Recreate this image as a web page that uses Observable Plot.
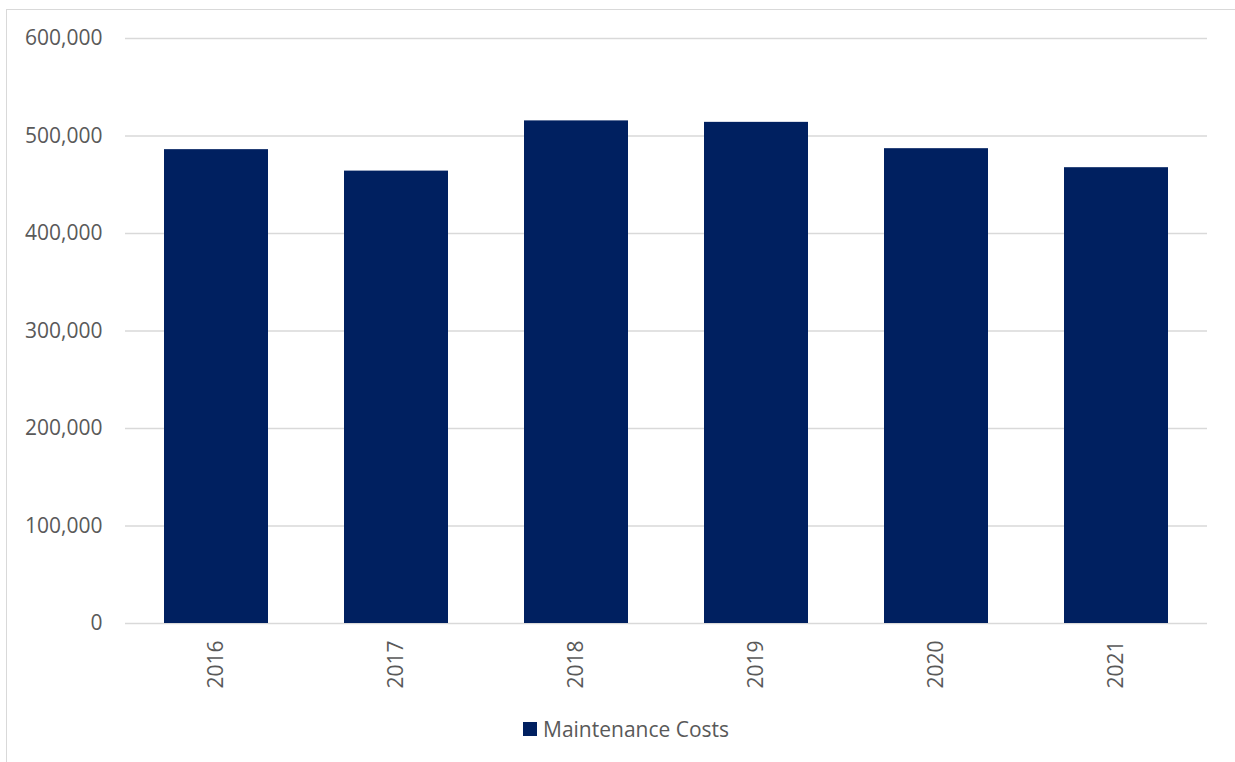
<!DOCTYPE html>
<html>
<head>
<meta charset="utf-8">
<script src="https://cdn.jsdelivr.net/npm/d3@7"></script>
<script src="https://cdn.jsdelivr.net/npm/@observablehq/plot@0.6"></script>
<style>
  html, body { margin: 0; padding: 0; background: #fff; width: 1235px; height: 762px; overflow: hidden; }
  #frame { position: absolute; left: 6px; top: 9px; width: 1240px; height: 760px; border: 1px solid #d9d9d9; box-sizing: border-box; }
  #chart { position: absolute; left: 0; top: 0; }
  #legend { position: absolute; left: 523px; top: 715px; font-family: "Open Sans", sans-serif; font-size: 21px; color: #595959; display: flex; align-items: center; }
  #legend .sw { width: 14px; height: 14px; background: #002060; margin-right: 6px; }
</style>
</head>
<body>
<div id="frame"></div>
<div id="chart"></div>
<div id="legend"><div class="sw"></div><span>Maintenance Costs</span></div>
<script>
const years = ["2016", "2017", "2018", "2019", "2020", "2021"];
const costs = [486000, 464000, 515500, 514000, 487000, 467500];
const yTicks = [0, 100000, 200000, 300000, 400000, 500000, 600000];
const seriesName = "Maintenance Costs";

const data = years.map((y, i) => ({year: y, value: costs[i]}));

const chart = Plot.plot({
  width: 1235,
  height: 700,
  marginLeft: 125,
  marginRight: 28,
  marginTop: 38,
  marginBottom: 77,
  style: {fontFamily: "'Open Sans', sans-serif", fontSize: "21px", color: "#595959", background: "transparent"},
  x: {domain: years, paddingInner: 0.42, paddingOuter: 0.21, label: null},
  y: {domain: [0, 600000], label: null},
  marks: [
    Plot.ruleY(yTicks, {stroke: "#d9d9d9", strokeWidth: 1.3}),
    Plot.barY(data, {x: "year", y: "value", fill: "#002060"}),
    Plot.axisY({ticks: yTicks, tickFormat: d3.format(","), tickSize: 0, tickPadding: 23, label: null, fill: "#595959"}),
    Plot.axisX({tickSize: 0, tickPadding: 17, tickRotate: -90, label: null, fill: "#595959"})
  ]
});
document.getElementById("chart").appendChild(chart);
</script>
</body>
</html>
